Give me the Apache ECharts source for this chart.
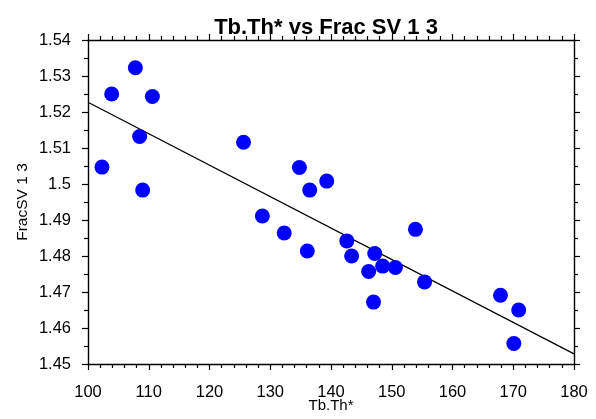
<!DOCTYPE html>
<html><head><meta charset="utf-8">
<script src="https://cdn.jsdelivr.net/npm/echarts@6/dist/echarts.min.js"></script>
<style>html,body{margin:0;padding:0;background:#fff}#c{width:596px;height:419px}</style>
</head><body><div id="c"></div>
<script>
const tbTh = [102.3, 103.9, 107.8, 108.5, 110.6, 109.0, 125.6, 128.7, 132.3, 134.8, 136.5, 136.1, 139.3, 142.6, 143.4, 146.2, 147.2, 148.5, 147.0, 150.6, 153.9, 155.4, 167.9, 170.9, 170.1];
const fracSV = [1.5047, 1.5250, 1.5323, 1.5132, 1.5243, 1.4983, 1.5116, 1.4911, 1.4864, 1.5046, 1.4983, 1.4814, 1.5008, 1.4842, 1.4800, 1.4757, 1.4807, 1.4772, 1.4672, 1.4768, 1.4874, 1.4728, 1.4691, 1.4650, 1.4557];
const fitX = [100, 180];
const fitY = [1.5227, 1.4528];
const titleText = 'Tb.Th* vs Frac SV 1 3';
const xName = 'Tb.Th*';
const yName = 'FracSV 1 3';

const pts = tbTh.map((x, i) => [x, fracSV[i]]);
const fit = fitX.map((x, i) => [x, fitY[i]]);
const font = 'Arial, "Liberation Sans", sans-serif';
const axisLine = {show: true, lineStyle: {color: '#000', width: 1.4}};
const baseX = {type: 'value', min: 100, max: 180, interval: 10, splitLine: {show: false},
  axisLine: axisLine, axisTick: {show: true, length: 6, lineStyle: {color: '#000', width: 1.2}},
  minorTick: {show: true, splitNumber: 5, length: 4, lineStyle: {color: '#000', width: 1.2}}};
const baseY = {type: 'value', min: 1.45, max: 1.54, interval: 0.01, splitLine: {show: false},
  axisLine: axisLine, axisTick: {show: true, length: 6, lineStyle: {color: '#000', width: 1.2}},
  minorTick: {show: true, splitNumber: 2, length: 4, lineStyle: {color: '#000', width: 1.2}}};

const chart = echarts.init(document.getElementById('c'), null, {renderer: 'canvas'});
chart.setOption({
  animation: false,
  backgroundColor: '#fff',
  title: {text: titleText, left: 321, textAlign: 'center', top: 12,
    textStyle: {fontFamily: font, fontSize: 22, fontWeight: 'bold', color: '#000'}},
  grid: {left: 88, top: 40, width: 486, height: 324, containLabel: false, outerBoundsMode: 'none'},
  xAxis: [
    Object.assign({}, baseX, {position: 'bottom', name: xName, nameLocation: 'middle', nameGap: 34,
      nameMoveOverlap: false,
      nameTextStyle: {fontFamily: font, fontSize: 15, color: '#000'},
      axisLabel: {show: true, margin: 20, fontFamily: font, fontSize: 16.5, color: '#000'}}),
    Object.assign({}, baseX, {position: 'top', axisLabel: {show: false}})
  ],
  yAxis: [
    Object.assign({}, baseY, {position: 'left', name: yName, nameLocation: 'middle', nameGap: 57,
      nameMoveOverlap: false,
      nameTextStyle: {fontFamily: font, fontSize: 15.5, color: '#000'},
      axisLabel: {show: true, margin: 17, fontFamily: font, fontSize: 16.5, color: '#000',
        formatter: v => String(parseFloat(v.toFixed(2)))}}),
    Object.assign({}, baseY, {position: 'right', axisLabel: {show: false}})
  ],
  series: [
    {type: 'line', data: fit, xAxisIndex: 0, yAxisIndex: 0, symbol: 'none',
      lineStyle: {color: '#000', width: 1.3}, z: 2},
    {type: 'scatter', data: pts, xAxisIndex: 0, yAxisIndex: 0, symbol: 'circle', symbolSize: 15,
      itemStyle: {color: '#0000ff', opacity: 1}, z: 3}
  ]
});
</script></body></html>
